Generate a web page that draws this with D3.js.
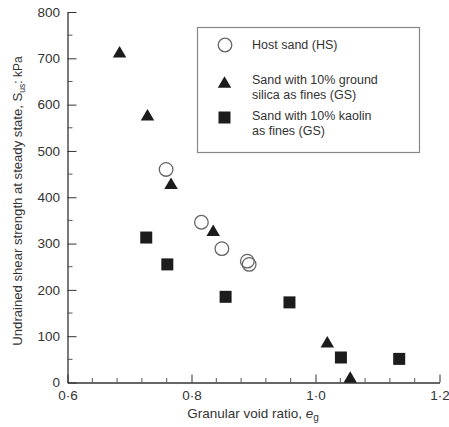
<!DOCTYPE html>
<html>
<head>
<meta charset="utf-8">
<script src="https://cdn.jsdelivr.net/npm/d3@7"></script>
<style>
  body { margin: 0; background: #fff; }
  svg { display: block; font-family: "Liberation Sans", Arial, sans-serif; }
</style>
</head>
<body>
<svg id="chart" width="449" height="427"></svg>
<script>
// Data
const hsX = [0.759, 0.816, 0.849, 0.890, 0.893];
const hsY = [460, 346, 289, 262, 255];
const gsX = [0.684, 0.729, 0.767, 0.835, 1.019, 1.056];
const gsY = [714, 578, 430, 329, 88, 12];
const kaX = [0.727, 0.761, 0.855, 0.958, 1.041, 1.135];
const kaY = [313, 255, 185, 173, 54, 51];
const xMajorTicks = [0.6, 0.8, 1.0, 1.2];
const xTickLabels = ["0·6", "0·8", "1·0", "1·2"];
const yMajorTicks = [0, 100, 200, 300, 400, 500, 600, 700, 800];
const legendLabels = [["Host sand (HS)"], ["Sand with 10% ground", "silica as fines (GS)"], ["Sand with 10% kaolin", "as fines (GS)"]];

const svg = d3.select("#chart");
const x = d3.scaleLinear().domain([0.6, 1.2]).range([67.5, 439.5]);
const y = d3.scaleLinear().domain([0, 800]).range([382.5, 12]);
const textCol = "#333";
const axisCol = "#333";
const fs = 13.5;

// Minor ticks (x every 0.04, y every 50)
const xMinor = d3.range(0, 16).map(i => 0.6 + i * 0.04).filter(v => !xMajorTicks.some(m => Math.abs(m - v) < 1e-6));
const yMinor = d3.range(50, 800, 100);

// X axis
const xAxis = d3.axisBottom(x).tickValues(xMajorTicks).tickSizeInner(-8).tickSizeOuter(0)
  .tickFormat((d, i) => xTickLabels[i]).tickPadding(8);
const gx = svg.append("g").attr("transform", `translate(0,${y(0)})`).call(xAxis);
gx.select(".domain").attr("stroke", axisCol).attr("stroke-width", 1.3);
gx.selectAll(".tick line").attr("stroke", axisCol);
gx.selectAll(".tick text").attr("fill", textCol).attr("font-size", fs).attr("font-family", "Liberation Sans, Arial, sans-serif");
gx.selectAll(".minor").data(xMinor).enter().append("line")
  .attr("x1", d => x(d)).attr("x2", d => x(d)).attr("y1", 0).attr("y2", -4.5)
  .attr("stroke", "#555").attr("stroke-width", 1);

// Y axis
const yAxis = d3.axisLeft(y).tickValues(yMajorTicks).tickSizeInner(-9).tickSizeOuter(0).tickPadding(7.5);
const gy = svg.append("g").attr("transform", `translate(${x(0.6)},0)`).call(yAxis);
gy.select(".domain").attr("stroke", axisCol).attr("stroke-width", 1.3);
gy.selectAll(".tick line").attr("stroke", axisCol);
gy.selectAll(".tick text").attr("fill", textCol).attr("font-size", fs).attr("font-family", "Liberation Sans, Arial, sans-serif");
gy.selectAll(".minor").data(yMinor).enter().append("line")
  .attr("x1", 0).attr("x2", 5).attr("y1", d => y(d)).attr("y2", d => y(d))
  .attr("stroke", "#555").attr("stroke-width", 1);

// Axis titles
const xt = svg.append("text").attr("x", 253).attr("y", 418).attr("text-anchor", "middle")
  .attr("fill", textCol).attr("font-size", fs);
xt.append("tspan").text("Granular void ratio, ");
xt.append("tspan").attr("font-style", "italic").text("e");
xt.append("tspan").attr("font-size", 10).attr("dy", 3).text("g");

const yt = svg.append("text").attr("transform", "translate(22,201) rotate(-90)").attr("text-anchor", "middle")
  .attr("fill", textCol).attr("font-size", 12);
yt.append("tspan").attr("textLength", 253).attr("lengthAdjust", "spacingAndGlyphs").text("Undrained shear strength at steady state, S");
yt.append("tspan").attr("font-size", 8.5).attr("dy", 3).text("us");
yt.append("tspan").attr("dy", -3).text(": kPa");

// Marker helpers
const triPath = (cx, cy, w, h) => `M${cx},${cy - h / 2}L${cx + w / 2},${cy + h / 2}L${cx - w / 2},${cy + h / 2}Z`;
const markFill = "#1c1c1c";

// Squares (kaolin)
svg.append("g").selectAll("rect").data(kaX.map((v, i) => [v, kaY[i]])).enter().append("rect")
  .attr("x", d => x(d[0]) - 6).attr("y", d => y(d[1]) - 6).attr("width", 12).attr("height", 12)
  .attr("fill", markFill);

// Triangles (ground silica)
svg.append("g").selectAll("path").data(gsX.map((v, i) => [v, gsY[i]])).enter().append("path")
  .attr("d", d => triPath(x(d[0]), y(d[1]), 13.5, 11.5)).attr("fill", markFill);

// Circles (host sand)
svg.append("g").selectAll("circle").data(hsX.map((v, i) => [v, hsY[i]])).enter().append("circle")
  .attr("cx", d => x(d[0])).attr("cy", d => y(d[1])).attr("r", 6.8)
  .attr("fill", "none").attr("stroke", "#666").attr("stroke-width", 1.3);

// Legend
const lg = svg.append("g");
lg.append("rect").attr("x", 197.5).attr("y", 27.5).attr("width", 222).attr("height", 125)
  .attr("fill", "#fff").attr("stroke", "#888").attr("stroke-width", 1.2);
lg.append("circle").attr("cx", 225).attr("cy", 45).attr("r", 6.8)
  .attr("fill", "none").attr("stroke", "#666").attr("stroke-width", 1.3);
lg.append("path").attr("d", triPath(224.5, 82, 13.5, 11.5)).attr("fill", markFill);
lg.append("rect").attr("x", 218.5).attr("y", 111.5).attr("width", 12).attr("height", 12).attr("fill", markFill);
const legendY = [49, 84, 120];
legendLabels.forEach((lines, i) => {
  const t = lg.append("text").attr("x", 252).attr("y", legendY[i]).attr("fill", textCol).attr("font-size", 12.5);
  lines.forEach((ln, j) => t.append("tspan").attr("x", 252).attr("dy", j === 0 ? 0 : 14.5).text(ln));
});
</script>
</body>
</html>
